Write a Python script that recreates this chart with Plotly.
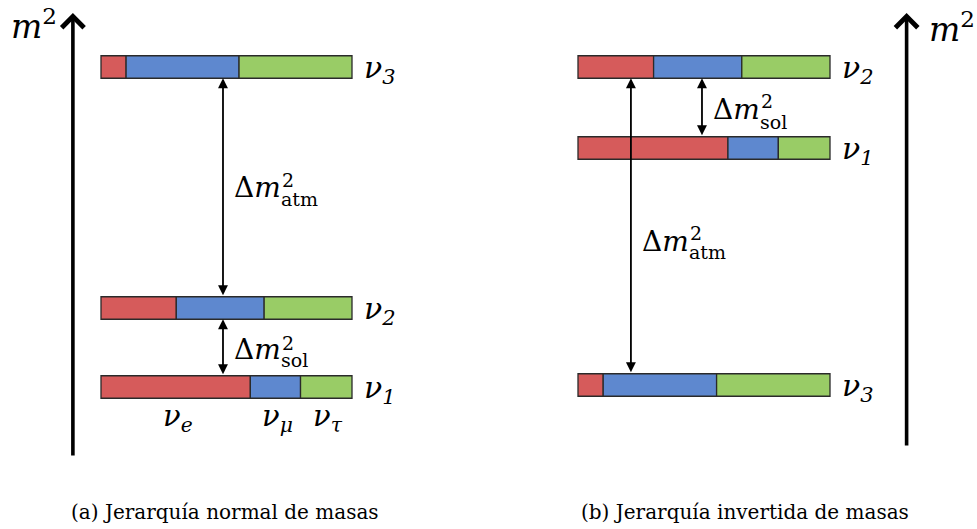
import plotly.graph_objects as go

# ---------------- data ----------------
flavours = ["e", "μ", "τ"]
colours = ["#D65B5B", "#5E88CF", "#99CC66"]
states = ["ν<sub>1</sub>", "ν<sub>2</sub>", "ν<sub>3</sub>"]

# flavour content (e, mu, tau fractions) of the mass states nu1, nu2, nu3
frac_e = [0.595, 0.30, 0.10]
frac_mu = [0.200, 0.35, 0.45]
frac_tau = [0.205, 0.35, 0.45]

# squared-mass levels (arbitrary units) of nu1, nu2, nu3
m2_normal = [0.0, 0.79, 3.20]
m2_inverted = [2.39, 3.20, 0.02]

captions = ["(a) Jerarquía normal de masas", "(b) Jerarquía invertida de masas"]

# ---------------- styling ----------------
SERIF = "DejaVu Serif"
BAR_T = 0.225
EDGE = "#2a2a2a"

fig = go.Figure()
fracs = [frac_e, frac_mu, frac_tau]

def add_bars(levels, xa):
    base = [0.0, 0.0, 0.0]
    for k in range(3):
        fig.add_trace(go.Bar(
            orientation="h", y=levels, x=fracs[k], base=list(base),
            width=BAR_T, marker=dict(color=colours[k], line=dict(color=EDGE, width=1.3)),
            xaxis=xa, yaxis="y", showlegend=False, hoverinfo="skip"))
        base = [b + f for b, f in zip(base, fracs[k])]

add_bars(m2_normal, "x")
add_bars(m2_inverted, "x2")

ann = []

def txt(x, y, s, size, xref="x", xanchor="center", xshift=0, yshift=0, yref="y", family=SERIF):
    ann.append(dict(x=x, y=y, xref=xref, yref=yref, text=s, showarrow=False,
                    font=dict(family=family, size=size, color="black"),
                    xanchor=xanchor, yanchor="middle", xshift=xshift, yshift=yshift))

def darrow(xref, x, y0, y1):
    ann.append(dict(x=x, y=y1, ax=x, ay=y0, xref=xref, yref="y", axref=xref, ayref="y",
                    text="", showarrow=True, arrowhead=2, arrowsize=1.1, arrowwidth=1.8,
                    arrowside="end+start", arrowcolor="black", standoff=0, startstandoff=0))

def dlabel(xref, x, y, sub, dy):
    txt(x, y, "Δ<i>m</i>", 28, xref, "left", 9, dy[0])
    txt(x, y, "2", 19, xref, "left", 57, dy[1])
    txt(x, y, sub, 19, xref, "left", 56, dy[2])

half = BAR_T / 2
# mass-state labels
for lv, s in zip(m2_normal, states):
    txt(1.0, lv, "<i>" + s + "</i>", 30, "x", "left", 10, -2)
for lv, s in zip(m2_inverted, states):
    txt(1.0, lv, "<i>" + s + "</i>", 30, "x2", "left", 10, -2)

# flavour labels under the normal-ordering nu1 bar
cum = 0.0
for k, fl in enumerate(flavours):
    c = cum + fracs[k][0] / 2
    cum += fracs[k][0]
    txt(c, m2_normal[0], "<i>ν<sub>" + fl + "</sub></i>", 29, "x", "center", 2, -31)

# splitting arrows: normal ordering
xa_n = 0.486
darrow("x", xa_n, m2_normal[1] + half, m2_normal[2] - half)
dlabel("x", xa_n, (m2_normal[1] + m2_normal[2]) / 2, "atm", dy=(0, 8, -11))
darrow("x", xa_n, m2_normal[0] + half, m2_normal[1] - half)
dlabel("x", xa_n, (m2_normal[0] + m2_normal[1]) / 2, "sol", dy=(-2, 5, -12))

# inverted ordering
xa_i_atm = 0.21
xa_i_sol = 0.492
darrow("x2", xa_i_atm, m2_inverted[2] + half, m2_inverted[1] - half)
dlabel("x2", xa_i_atm, (m2_inverted[2] + m2_inverted[1]) / 2, "atm", dy=(-15, -7, -26))
darrow("x2", xa_i_sol, m2_inverted[0] + half, m2_inverted[1] - half)
dlabel("x2", xa_i_sol, (m2_inverted[0] + m2_inverted[1]) / 2, "sol", dy=(-2, 7, -14))

# m^2 axis arrows
for xref, xv, ybot in [("x", -0.112, -0.70), ("x2", 1.304, -0.60)]:
    ann.append(dict(x=xv, y=3.74, ax=xv, ay=ybot, xref=xref, yref="y", axref=xref, ayref="y",
                    text="", showarrow=True, arrowhead=4, arrowsize=1.2, arrowwidth=3.6,
                    arrowcolor="black", standoff=0))
txt(-0.112, 3.63, "<i>m</i><sup>2</sup>", 33, "x", "right", -14, 0)
txt(1.304, 3.60, "<i>m</i><sup>2</sup>", 33, "x2", "left", 20, 0)

# captions
for cx, cap in zip([225 / 977, 745 / 977], captions):
    ann.append(dict(x=cx, y=17 / 529, xref="paper", yref="paper", text=cap, showarrow=False,
                    font=dict(family=SERIF, size=20, color="black"), xanchor="center", yanchor="middle"))

hidden = dict(visible=False, showgrid=False, zeroline=False, fixedrange=True)
fig.update_layout(
    width=977, height=529, margin=dict(l=0, r=0, t=0, b=0),
    paper_bgcolor="white", plot_bgcolor="white", barmode="overlay",
    xaxis=dict(range=[-101 / 251, 876 / 251], domain=[0, 1], **hidden),
    xaxis2=dict(range=[-578 / 252, 399 / 252], domain=[0, 1], overlaying="x", anchor="y", **hidden),
    yaxis=dict(range=[-1.42, 3.87], domain=[0, 1], **hidden),
    annotations=ann,
)

fig.write_html("out.html", config={"displayModeBar": False},
               post_script="document.body.style.margin='0';document.body.style.padding='0';")
